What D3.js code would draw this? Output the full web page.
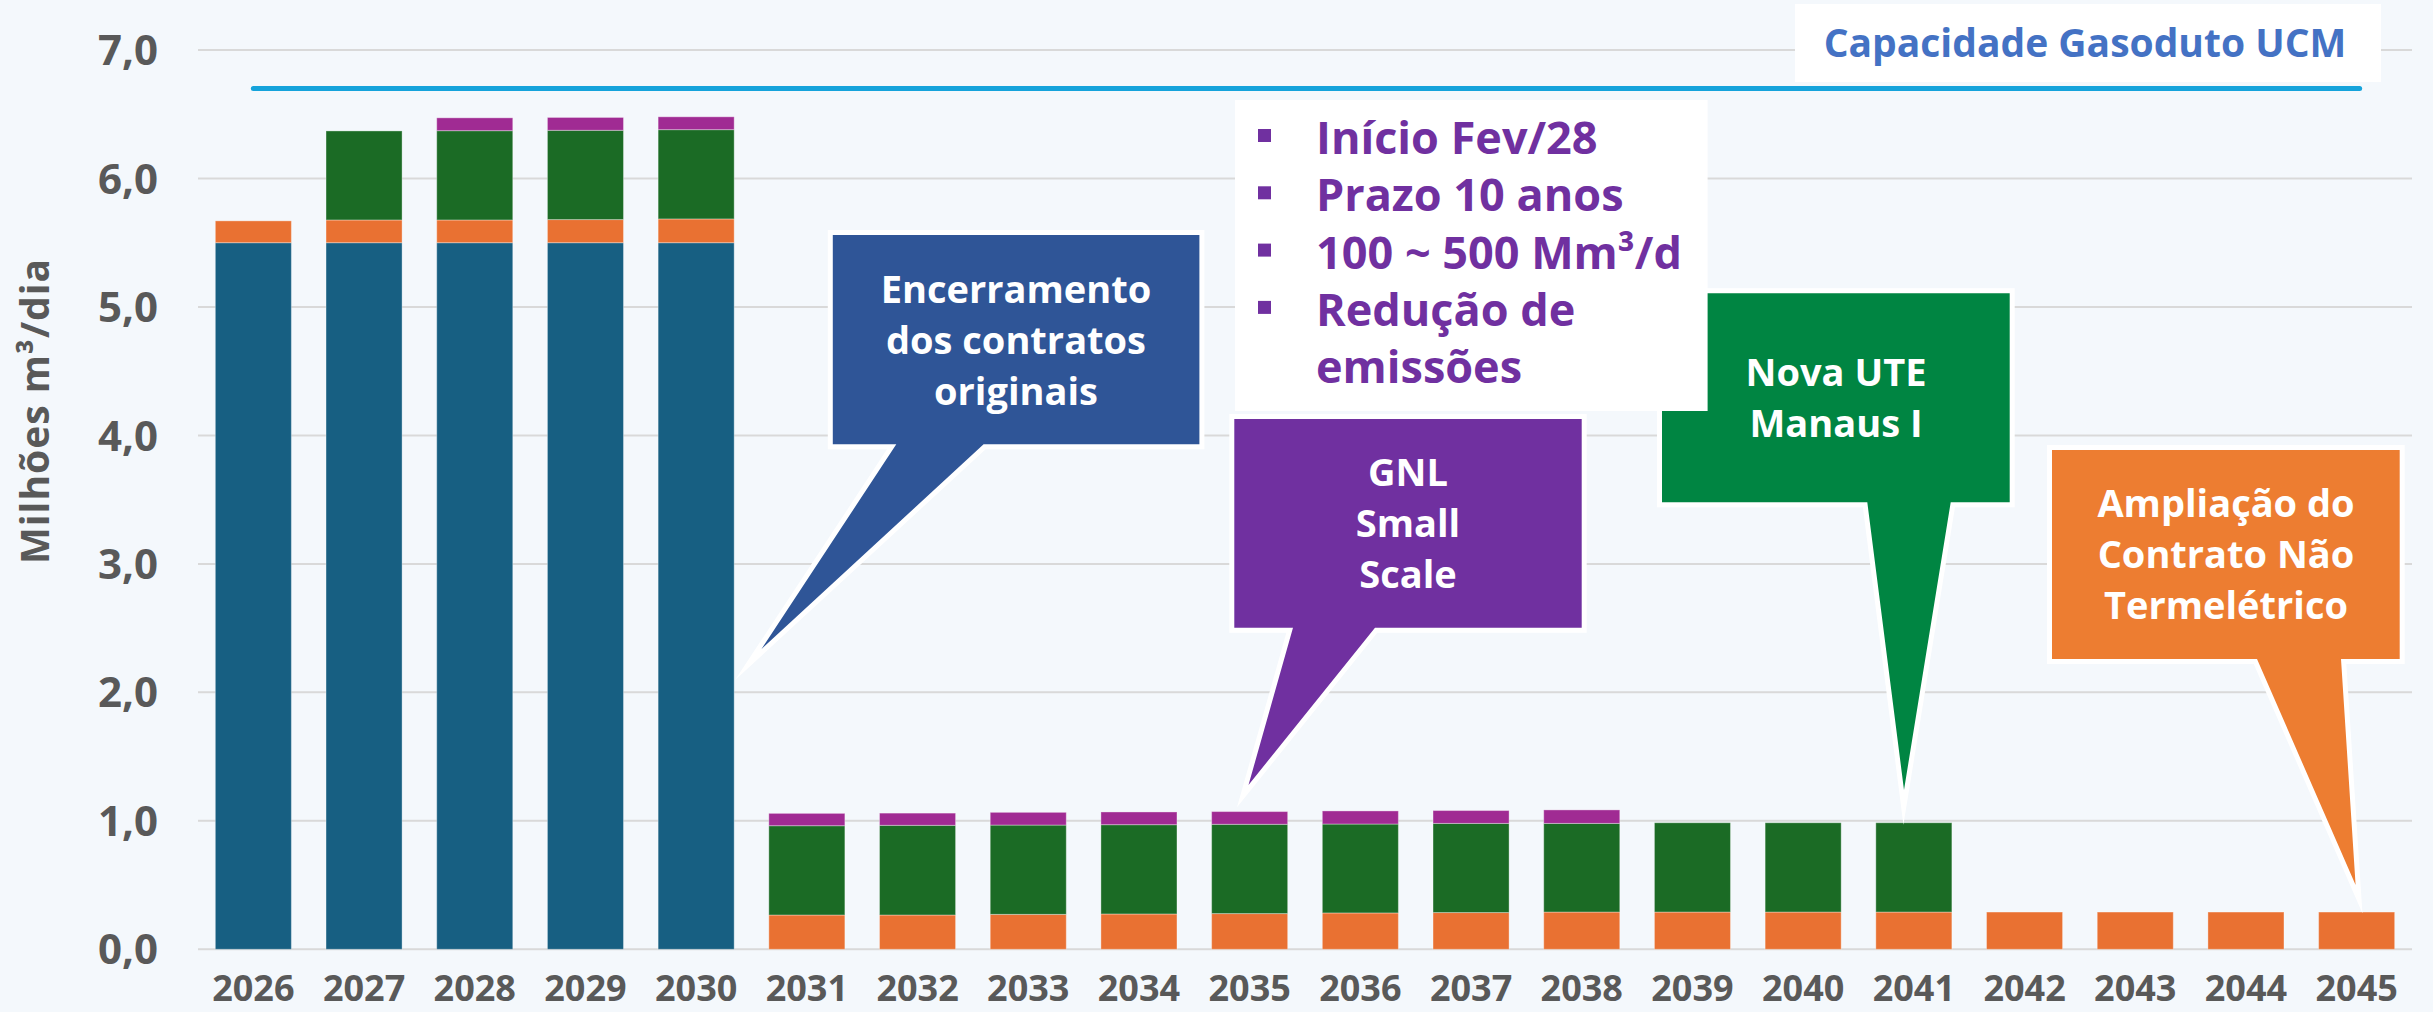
<!DOCTYPE html>
<html>
<head>
<meta charset="utf-8">
<script src="https://cdn.jsdelivr.net/npm/d3@7"></script>
<style>
  html, body { margin: 0; padding: 0; background: #F4F8FC; }
  svg { display: block; }
  text { font-family: "Open Sans", sans-serif; }
</style>
</head>
<body>
<svg id="chart" width="2433" height="1012"></svg>
<script>
// ---- Data ----
const years = ["2026","2027","2028","2029","2030","2031","2032","2033","2034","2035",
               "2036","2037","2038","2039","2040","2041","2042","2043","2044","2045"];
const contratosOriginais = [5.5, 5.5, 5.5, 5.5, 5.5, 0, 0, 0, 0, 0, 0, 0, 0, 0, 0, 0, 0, 0, 0, 0];
const naoTermeletrico    = [0.17, 0.177, 0.177, 0.18, 0.185, 0.267, 0.267, 0.272, 0.275, 0.278,
                            0.283, 0.286, 0.29, 0.29, 0.29, 0.29, 0.29, 0.29, 0.29, 0.29];
const uteManaus          = [0, 0.693, 0.695, 0.695, 0.695, 0.695, 0.698, 0.695, 0.695, 0.695,
                            0.692, 0.694, 0.69, 0.695, 0.695, 0.695, 0, 0, 0, 0];
const gnlSmallScale      = [0, 0, 0.10, 0.10, 0.10, 0.096, 0.095, 0.099, 0.099, 0.099,
                            0.102, 0.10, 0.105, 0, 0, 0, 0, 0, 0, 0];
const capacidadeUCM = 6.7;
const yTickValues = [0, 1, 2, 3, 4, 5, 6, 7];
const yTickLabels = ["0,0", "1,0", "2,0", "3,0", "4,0", "5,0", "6,0", "7,0"];
const seriesKeys = ["contratosOriginais", "naoTermeletrico", "uteManaus", "gnlSmallScale"];
const seriesColors = ["#175F82", "#E97132", "#1B6B25", "#A02B93"];
const yAxisTitle = "Milhões m³/dia";
const capacityLabel = "Capacidade Gasoduto UCM";
const bulletLines = ["Início Fev/28", "Prazo 10 anos", "100 ~ 500 Mm³/d", "Redução de", "emissões"];
const bulletMarkers = [true, true, true, true, false];
const calloutBlueText = ["Encerramento", "dos contratos", "originais"];
const calloutPurpleText = ["GNL", "Small", "Scale"];
const calloutGreenText = ["Nova UTE", "Manaus I"];
const calloutOrangeText = ["Ampliação do", "Contrato Não", "Termelétrico"];

// ---- Build ----
const svg = d3.select("#chart");
svg.append("rect").attr("width", 2433).attr("height", 1012).attr("fill", "#F4F8FC");

const x = d3.scaleBand().domain(years).range([198, 2412]).paddingInner(0.313).paddingOuter(0.1565);
const y = d3.scaleLinear().domain([0, 7]).range([949.3, 50]);

const table = years.map((yr, i) => ({
  year: yr,
  contratosOriginais: contratosOriginais[i],
  naoTermeletrico: naoTermeletrico[i],
  uteManaus: uteManaus[i],
  gnlSmallScale: gnlSmallScale[i]
}));

// gridlines
svg.append("g").selectAll("line").data(yTickValues).join("line")
  .attr("x1", 198).attr("x2", 2412)
  .attr("y1", d => y(d)).attr("y2", d => y(d))
  .attr("stroke", "#D9D9D9").attr("stroke-width", 2);

// y tick labels
svg.append("g").selectAll("text").data(yTickValues).join("text")
  .attr("x", 158).attr("y", d => y(d)).attr("dy", "0.36em")
  .attr("text-anchor", "end")
  .attr("font-size", 42).attr("font-weight", 700).attr("fill", "#595959")
  .text((d, i) => yTickLabels[i]);

// y axis title
svg.append("text")
  .attr("transform", "translate(49,411) rotate(-90)")
  .attr("text-anchor", "middle")
  .attr("font-size", 39).attr("font-weight", 700).attr("fill", "#595959")
  .attr("letter-spacing", 1)
  .text(yAxisTitle);

// x labels
svg.append("g").selectAll("text").data(years).join("text")
  .attr("x", d => x(d) + x.bandwidth() / 2).attr("y", 1001)
  .attr("text-anchor", "middle")
  .attr("font-size", 36).attr("font-weight", 700).attr("fill", "#595959")
  .text(d => d);

// stacked bars
const stacked = d3.stack().keys(seriesKeys)(table);
svg.append("g").selectAll("g").data(stacked).join("g")
  .attr("fill", (d, i) => seriesColors[i])
  .selectAll("rect").data(d => d.filter(s => s[1] - s[0] > 0)).join("rect")
  .attr("x", d => x(d.data.year))
  .attr("width", x.bandwidth())
  .attr("y", d => y(d[1]))
  .attr("height", d => y(d[0]) - y(d[1]))
  .attr("stroke", "rgba(255,255,255,0.35)").attr("stroke-width", 1);

// capacity line
const xc = d => x(d) + x.bandwidth() / 2;
svg.append("line")
  .attr("x1", xc(years[0])).attr("x2", xc(years[years.length - 1]) + 3)
  .attr("y1", y(capacidadeUCM)).attr("y2", y(capacidadeUCM))
  .attr("stroke", "#15A3DB").attr("stroke-width", 5).attr("stroke-linecap", "round");

// capacity label
svg.append("rect").attr("x", 1795).attr("y", 4).attr("width", 586).attr("height", 78).attr("fill", "#FFFFFF");
svg.append("text").attr("x", 2085).attr("y", 57).attr("text-anchor", "middle")
  .attr("font-size", 39).attr("font-weight", 700).attr("fill", "#4472C4")
  .text(capacityLabel);

// callouts
function callout(box, base, tip, color, lines, textCx, firstBaseline, lineGap) {
  const [x0, y0, x1, y1] = box;
  const path = `M${x0},${y0} H${x1} V${y1} H${base[1]} L${tip[0]},${tip[1]} L${base[0]},${y1} H${x0} Z`;
  svg.append("path").attr("d", path)
    .attr("fill", color).attr("stroke", "#FFFFFF").attr("stroke-width", 10)
    .attr("stroke-linejoin", "miter").attr("stroke-miterlimit", 30)
    .attr("paint-order", "stroke");
  svg.append("g").selectAll("text").data(lines).join("text")
    .attr("x", textCx).attr("y", (d, i) => firstBaseline + i * lineGap)
    .attr("text-anchor", "middle")
    .attr("font-size", 38).attr("font-weight", 700).attr("fill", "#FFFFFF")
    .text(d => d);
}

callout([832.8, 235, 1199.4, 444.3], [896.3, 983.6], [761.5, 649], "#2F5597",
        calloutBlueText, 1016, 303, 51);
callout([1662, 293.3, 2009.7, 502.3], [1867.3, 1950.7], [1904, 790], "#008542",
        calloutGreenText, 1836, 386, 51);
callout([2052, 450, 2399.7, 659], [2257, 2341], [2355.6, 885], "#ED7D31",
        calloutOrangeText, 2226, 517, 51);

// white bullet box
svg.append("rect").attr("x", 1235).attr("y", 100).attr("width", 472.6).attr("height", 311).attr("fill", "#FFFFFF");
const bl = svg.append("g");
bulletLines.forEach((t, i) => {
  const by = 154 + i * 57.3;
  if (bulletMarkers[i]) {
    bl.append("rect").attr("x", 1258).attr("y", by - 25).attr("width", 13).attr("height", 13).attr("fill", "#7030A0");
  }
  bl.append("text").attr("x", 1316).attr("y", by)
    .attr("font-family", "Roboto, sans-serif")
    .attr("font-size", 45).attr("font-weight", 700).attr("fill", "#7030A0")
    .text(t);
});

callout([1234.3, 419, 1581.7, 627.7], [1293, 1375], [1248.5, 785], "#7030A0",
        calloutPurpleText, 1408, 486, 51);
</script>
</body>
</html>
